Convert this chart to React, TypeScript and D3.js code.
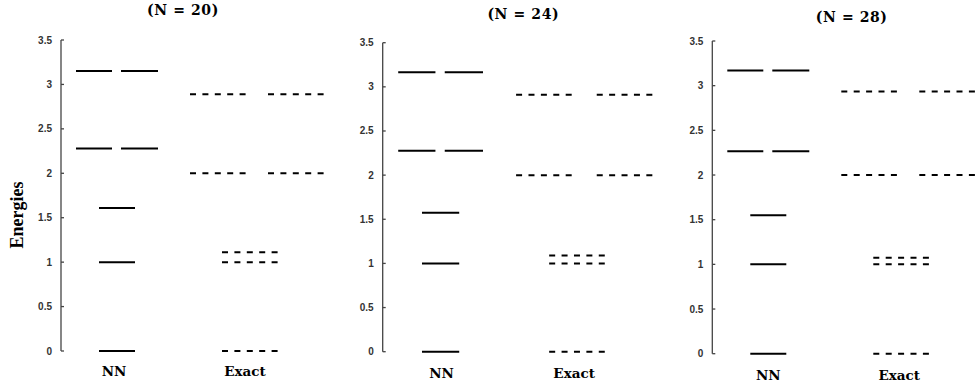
import React from "react";
import * as d3 from "d3";

// ---- data ----
const N_VALUES = [20, 24, 28];
const NN_20 = [0, 1.0, 1.61, 2.28, 3.15];
const NN_24 = [0, 1.0, 1.575, 2.275, 3.165];
const NN_28 = [0, 1.0, 1.55, 2.265, 3.17];
const EXACT_20 = [0, 1.0, 1.11, 2.0, 2.89];
const EXACT_24 = [0, 1.0, 1.09, 2.0, 2.91];
const EXACT_28 = [0, 1.0, 1.075, 2.0, 2.935];
const DEGENERACY = [1, 1, 1, 2, 2];
const Y_TICKS = [0, 0.5, 1, 1.5, 2, 2.5, 3, 3.5];
const METHODS = ["NN", "Exact"];

const NN_SERIES = [NN_20, NN_24, NN_28];
const EXACT_SERIES = [EXACT_20, EXACT_24, EXACT_28];

// ---- layout ----
const W = 977;
const H = 387;
const PANELS = [
  { axisX: 61, top: 40, bottom: 351, factor: 1.0, titleX: 183, titleY: 15, labelY: 376, labelDx: [-3, -5] },
  { axisX: 382.7, top: 42.7, bottom: 351.7, factor: 1.034, titleX: 523.3, titleY: 18.5, labelY: 378, labelDx: [1, -4] },
  { axisX: 712.3, top: 41, bottom: 353.7, factor: 1.0, titleX: 851.7, titleY: 22, labelY: 380, labelDx: [0, -2] },
];
// slots in layout units (x domain 0..264)
const SLOTS = {
  NN: { single: [[38, 74]], double: [[15, 51], [60, 97]], center: 56 },
  Exact: { single: [[161, 217]], double: [[129, 185], [207, 263]], center: 189 },
};

const FONT_SERIF = "'DejaVu Serif', 'Liberation Serif', serif";
const FONT_SANS = "'Liberation Sans', Arial, sans-serif";

function Panel({ idx }: { idx: number }) {
  const p = PANELS[idx];
  const x = d3.scaleLinear().domain([0, 264]).range([p.axisX, p.axisX + 264 * p.factor]);
  const y = d3.scaleLinear().domain([0, 3.5]).range([p.bottom, p.top]);
  const seriesByMethod: Record<string, number[]> = { NN: NN_SERIES[idx], Exact: EXACT_SERIES[idx] };

  return (
    <g>
      <text
        x={p.titleX}
        y={p.titleY}
        textAnchor="middle"
        style={{ whiteSpace: "pre" }}
        fontFamily={FONT_SERIF}
        fontWeight="bold"
        fontSize={14}
        letterSpacing={0.6}
      >
        {`(N = ${N_VALUES[idx]})`}
      </text>
      {/* axis */}
      <line x1={p.axisX} x2={p.axisX} y1={y(0)} y2={y(3.5)} stroke="#444" strokeWidth={1.3} />
      {Y_TICKS.map((t) => (
        <g key={t}>
          <line x1={p.axisX} x2={p.axisX + 3} y1={y(t)} y2={y(t)} stroke="#444" strokeWidth={1.3} />
          <text
            x={p.axisX - 9}
            y={y(t)}
            dy="0.35em"
            textAnchor="end"
            fontFamily={FONT_SANS}
            fontWeight="bold"
            fontSize={10}
            fill="#333"
          >
            {d3.format("")(t)}
          </text>
        </g>
      ))}
      {METHODS.map((m, mi) => {
        const slot = SLOTS[m as "NN" | "Exact"];
        const levels = seriesByMethod[m];
        return (
          <g key={m}>
            {levels.map((e, li) => {
              const segs = DEGENERACY[li] === 2 ? slot.double : slot.single;
              return segs.map((s, si) => (
                <line
                  key={`${li}-${si}`}
                  x1={x(s[0])}
                  x2={x(s[1])}
                  y1={y(e)}
                  y2={y(e)}
                  stroke="#000"
                  strokeWidth={2}
                  strokeDasharray={m === "Exact" ? "6 6.4" : undefined}
                />
              ));
            })}
            <text
              x={x(slot.center) + p.labelDx[mi]}
              y={p.labelY}
              textAnchor="middle"
              fontFamily={FONT_SERIF}
              fontWeight="bold"
              fontSize={13.5}
            >
              {m}
            </text>
          </g>
        );
      })}
    </g>
  );
}

export default function App() {
  return (
    <svg
      width={W}
      height={H}
      viewBox={`0 0 ${W} ${H}`}
      style={{ position: "absolute", left: 0, top: 0, background: "#fff" }}
    >
      <rect width={W} height={H} fill="#fff" />
      <text
        transform="translate(23,215) rotate(-90)"
        textAnchor="middle"
        fontFamily="'Liberation Serif', serif"
        fontWeight="bold"
        fontSize={18}
      >
        Energies
      </text>
      {N_VALUES.map((n, i) => (
        <Panel key={n} idx={i} />
      ))}
    </svg>
  );
}
